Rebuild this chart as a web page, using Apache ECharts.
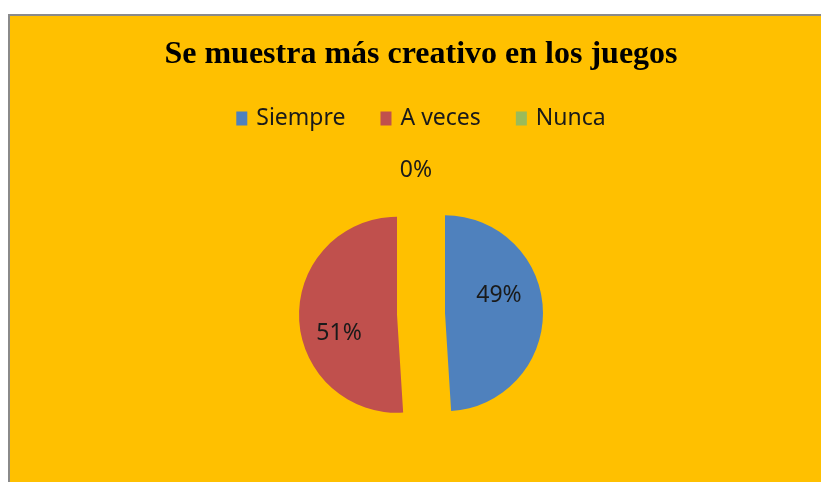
<!DOCTYPE html>
<html>
<head>
<meta charset="utf-8">
<script src="https://cdn.jsdelivr.net/npm/echarts@6/dist/echarts.min.js"></script>
<style>
  html, body { margin: 0; padding: 0; background: #ffffff; }
  #frame { position: absolute; left: 8px; top: 14px; width: 813px; height: 468px;
           border-left: 2px solid #8a8a8a; border-top: 2px solid #8a8a8a;
           background: #FFC000; overflow: hidden; }
  #chart { position: absolute; left: 0; top: 0; width: 822px; height: 466px; }
</style>
</head>
<body>
<div id="frame"><div id="chart"></div></div>
<script>
const titleText = 'Se muestra más creativo en los juegos';
const categories = ['Siempre', 'A veces', 'Nunca'];
const values = [49, 51, 0];
const colors = ['#4F81BD', '#C0504D', '#9BBB59'];
const labelShift = [[2, -16], [-6, 17], [0, 0]];

const chart = echarts.init(document.getElementById('chart'), null, { renderer: 'canvas' });

const data = categories.map((name, i) => ({
  name: name,
  value: values[i],
  selected: true,
  itemStyle: { color: colors[i] },
  label: i === 2 ? { position: 'outside' } : { position: 'inner' },
  labelLine: { show: false, length: 22, length2: 0 }
}));

chart.setOption({
  backgroundColor: 'transparent',
  animation: false,
  title: {
    text: titleText,
    left: 'center',
    top: 23,
    padding: 0,
    textStyle: {
      fontFamily: 'Liberation Serif',
      fontWeight: 'bold',
      fontSize: 32,
      color: '#000000'
    }
  },
  legend: {
    data: categories,
    left: 'center',
    top: 91,
    padding: 0,
    icon: 'rect',
    itemWidth: 11,
    itemHeight: 14,
    itemGap: 35,
    selectedMode: false,
    textStyle: {
      fontFamily: 'Noto Sans',
      fontSize: 23,
      color: '#1a1a1a',
      padding: [0, 0, 0, 4]
    }
  },
  series: [{
    type: 'pie',
    center: [411, 298],
    radius: 98,
    startAngle: 90,
    clockwise: true,
    selectedMode: 'multiple',
    selectedOffset: 24,
    avoidLabelOverlap: false,
    emphasis: { disabled: true },
    label: {
      show: true,
      formatter: '{d}%',
      fontFamily: 'Noto Sans',
      fontSize: 23,
      color: '#1a1a1a'
    },
    labelLayout: function (params) {
      const s = labelShift[params.dataIndex] || [0, 0];
      const o = { dx: s[0], dy: s[1] };
      if (params.dataIndex === 2) { o.align = 'center'; }
      return o;
    },
    data: data
  }]
});
</script>
</body>
</html>
